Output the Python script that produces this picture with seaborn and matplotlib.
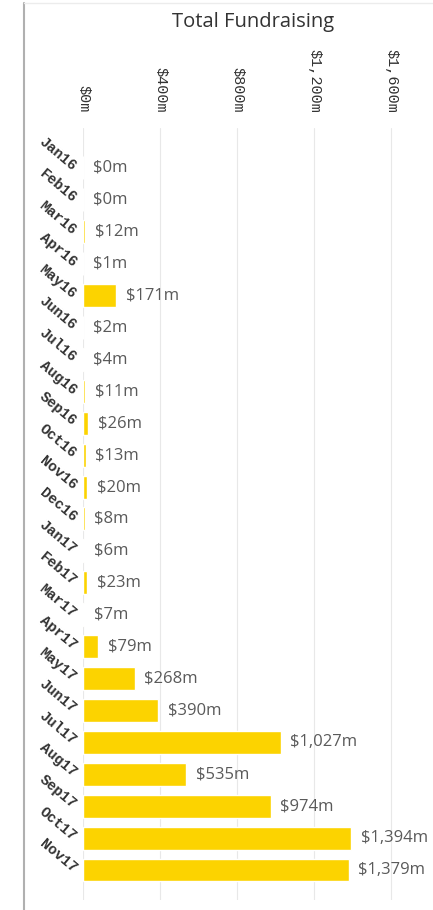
import matplotlib
matplotlib.use("Agg")
import matplotlib.pyplot as plt
import seaborn as sns
import pandas as pd
from matplotlib.lines import Line2D

months = ["Jan16", "Feb16", "Mar16", "Apr16", "May16", "Jun16", "Jul16", "Aug16",
          "Sep16", "Oct16", "Nov16", "Dec16", "Jan17", "Feb17", "Mar17", "Apr17",
          "May17", "Jun17", "Jul17", "Aug17", "Sep17", "Oct17", "Nov17"]
values = [0, 0, 12, 1, 171, 2, 4, 11, 26, 13, 20, 8, 6, 23, 7, 79,
          268, 390, 1027, 535, 974, 1394, 1379]
x_ticks = [0, 400, 800, 1200, 1600]
x_tick_labels = ["$0m", "$400m", "$800m", "$1,200m", "$1,600m"]

df = pd.DataFrame({"month": months, "value": values})

sns.set_theme(style="white")
fig = plt.figure(figsize=(4.33, 9.10), dpi=100)
ax = fig.add_axes([83 / 433, 1 - 900 / 910, (420 - 83) / 433, (900 - 128) / 910])

sns.barplot(data=df, x="value", y="month", color="#FCD300", saturation=1,
            width=0.72, ax=ax, orient="h")

ax.set_xlim(0, 1750)
ax.set_ylim(22.94, -1.25)
ax.set_xticks(x_ticks)
ax.set_xticklabels(x_tick_labels)
ax.xaxis.tick_top()
ax.tick_params(axis="x", length=0, pad=11, labelsize=11)
for lbl in ax.get_xticklabels():
    lbl.set_rotation(270)
    lbl.set_family("Liberation Mono")
    lbl.set_color("#333333")
    lbl.set_va("bottom")
    lbl.set_ha("center")

ax.set_yticks(range(len(months)))
ax.set_yticklabels(months)
ax.tick_params(axis="y", length=0, pad=6, labelsize=10.5)
for lbl in ax.get_yticklabels():
    lbl.set_rotation(-40)
    lbl.set_rotation_mode("anchor")
    lbl.set_ha("right")
    lbl.set_va("center")
    lbl.set_family("Liberation Mono")
    lbl.set_weight("bold")
    lbl.set_color("#333333")

ax.grid(axis="x", color="#e8e8e8", linewidth=0.8)
ax.set_axisbelow(True)
for s in ax.spines.values():
    s.set_visible(False)
ax.set_xlabel("")
ax.set_ylabel("")

for i, v in enumerate(values):
    ax.annotate(f"${v:,}m", xy=(v, i), xytext=(7, 0), textcoords="offset points",
                va="center", ha="left", fontsize=12, color="#5a5a5a",
                family="Open Sans")

fig.text(253 / 433, 1 - 22 / 910, "Total Fundraising", ha="center", va="center",
         fontsize=14.5, color="#333333", family="Open Sans")

fig.add_artist(Line2D([24 / 433, 24 / 433], [0, 1 - 3 / 910], color="#b0b0b0",
                      linewidth=1.5, transform=fig.transFigure))
fig.add_artist(Line2D([24 / 433, 1], [1 - 3 / 910, 1 - 3 / 910], color="#ececec",
                      linewidth=1, transform=fig.transFigure))

fig.savefig("out.png", dpi=100)
